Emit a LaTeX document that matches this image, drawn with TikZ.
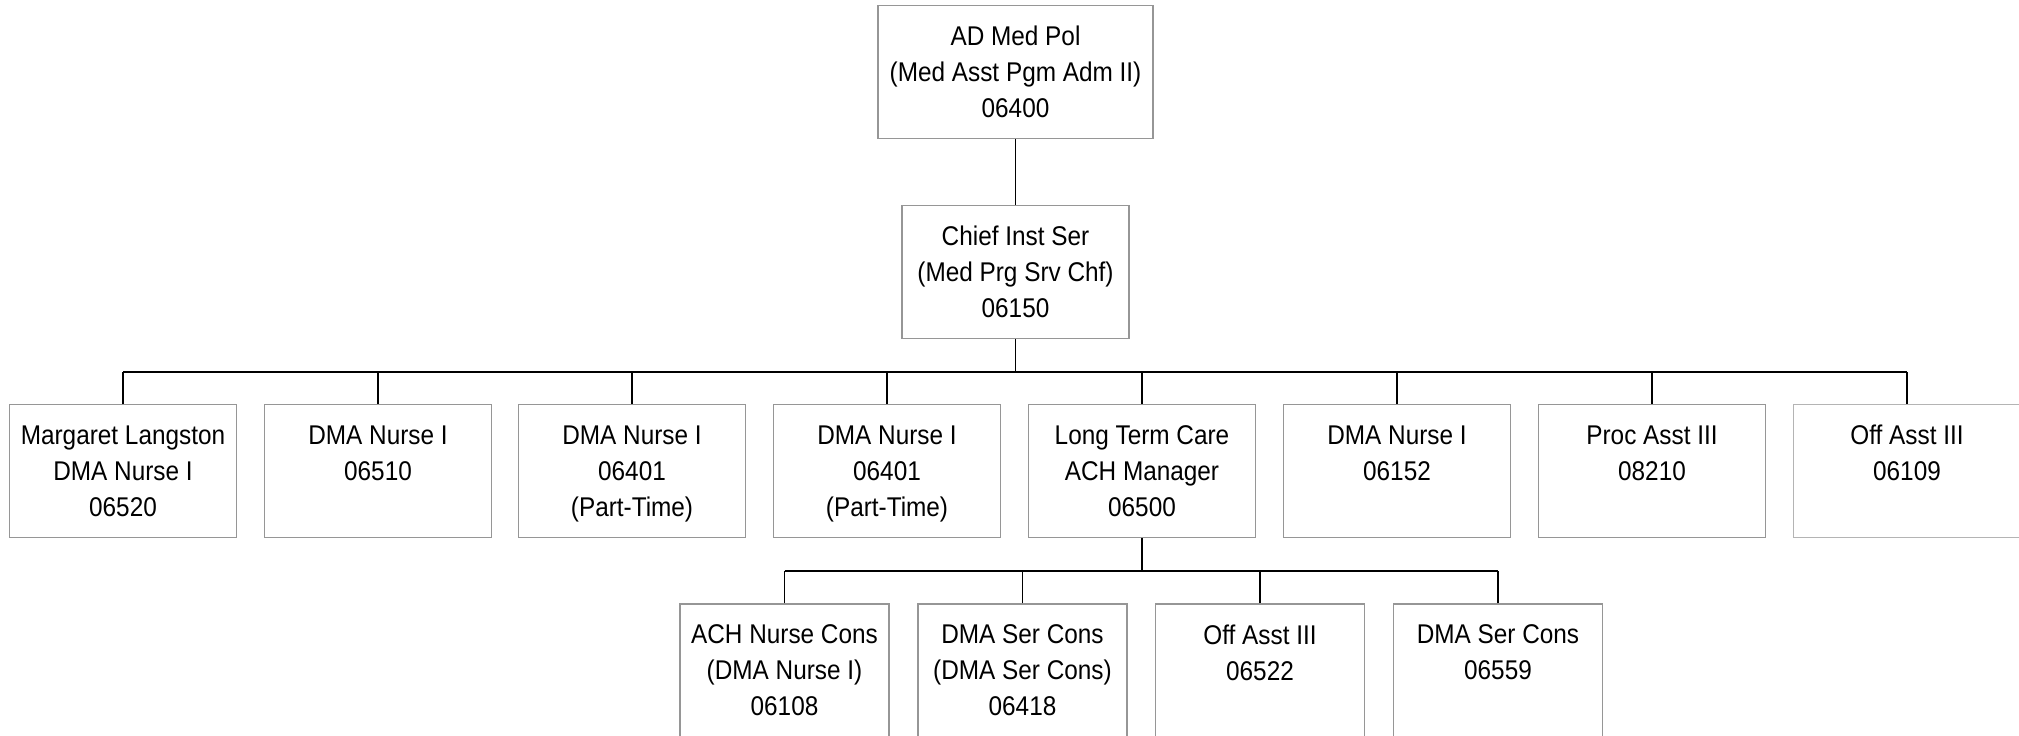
\documentclass[tikz,border=0pt]{standalone}
\usepackage{fontspec}
\setmainfont{Liberation Sans}[FakeStretch=0.9]
\usepackage{xcolor}
\usepackage{tikz}
\usetikzlibrary{calc}
\definecolor{bg}{HTML}{FFFFFF}
\definecolor{boxline}{HTML}{969696}
\definecolor{boxlite}{HTML}{B4B4B4}
\definecolor{wire}{HTML}{000000}
\newcommand{\nodepth}[1]{\raisebox{0pt}[\height][0pt]{#1}}
\tikzset{
  box/.style={draw=boxline, line width=0.8pt, fill=bg, align=center, inner sep=0pt,
    minimum height=2.66cm, font=\fontsize{15.4}{20.5}\selectfont},
  topbox/.style={box, minimum width=5.5cm},
  midbox/.style={box, minimum width=4.54cm},
  edgebox/.style={midbox, draw=boxlite, line width=0.6pt},
  subbox/.style={box, minimum width=4.18cm},
  bus/.style={draw=wire, line width=0.9pt},
  drop/.style={draw=wire, line width=0.6pt}
}

\begin{document}
\begin{tikzpicture}[x=0.02cm, y=-0.02cm]
  \useasboundingbox[fill=bg] (0,0) rectangle (2019,735);
  \coordinate (bus) at (0,372);
  \coordinate (subbus) at (0,571);

  \node[topbox] (ad) at (1015.5,72) {AD Med Pol\\(Med Asst Pgm Adm II)\\06400};
  \node[midbox] (chief) at (1015.5,272) {Chief Inst Ser\\(Med Prg Srv Chf)\\06150};

  % second row
  \node[midbox] (langston) at (123,471) {Margaret Langston\\DMA Nurse I\\06520};
  \node[midbox] (nurseA) at (378,471) {DMA Nurse I\\06510\\\mbox{}};
  \node[midbox] (nurseB) at (632,471) {DMA Nurse I\\06401\\\nodepth{(Part-Time)}};
  \node[midbox] (nurseC) at (887,471) {DMA Nurse I\\06401\\\nodepth{(Part-Time)}};
  \node[midbox] (ltc) at (1142,471) {Long Term Care\\ACH Manager\\06500};
  \node[midbox] (nurseD) at (1397,471) {DMA Nurse I\\06152\\\mbox{}};
  \node[midbox] (proc) at (1652,471) {Proc Asst III\\08210\\\mbox{}};
  \node[edgebox] (offasst) at (1907,471) {Off Asst III\\06109\\\mbox{}};

  % third row
  \node[subbox] (achcons) at (784.5,670.5) {ACH Nurse Cons\\(DMA Nurse I)\\06108};
  \node[subbox] (sercons) at (1022.5,670.5) {DMA Ser Cons\\(DMA Ser Cons)\\06418};
  \node[subbox] (offsub) at (1260,670.5) {Off Asst III\\06522\\\mbox{}};
  \node[subbox] (serconsB) at (1498,670.5) {DMA Ser Cons\\06559\\\mbox{}};

  \draw[drop] (ad) -- (chief);
  \draw[bus] (chief) -- (chief |- bus);
  \draw[bus] (langston.north |- bus) -- (offasst.north |- bus);
  \foreach \n in {langston,nurseA,nurseB,nurseC,ltc,nurseD,proc,offasst}
    \draw[drop] (\n.north) -- (\n.north |- bus);

  \draw[bus] (ltc) -- (ltc |- subbus);
  \draw[bus] (achcons.north |- subbus) -- (serconsB.north |- subbus);
  \foreach \n in {achcons,sercons,offsub,serconsB}
    \draw[drop] (\n.north) -- (\n.north |- subbus);
\end{tikzpicture}
\end{document}
